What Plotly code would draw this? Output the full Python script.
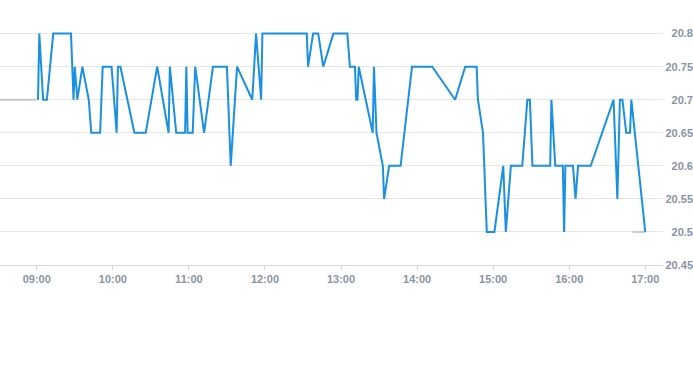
import plotly.graph_objects as go

DAY = "2024-01-02 "

price_times = [
    "09:01", "09:02", "09:05", "09:08", "09:13", "09:27", "09:29", "09:30", "09:32", "09:36",
    "09:41", "09:43", "09:50", "09:52", "09:59", "10:03", "10:04", "10:06", "10:17", "10:26",
    "10:35", "10:44", "10:45", "10:50", "10:57", "10:58", "10:59", "11:03", "11:05", "11:12",
    "11:19", "11:30", "11:33", "11:38", "11:50", "11:53", "11:57", "11:58", "12:33", "12:34",
    "12:38", "12:42", "12:46", "12:54", "13:05", "13:07", "13:11", "13:12", "13:13", "13:14",
    "13:25", "13:26", "13:28", "13:33", "13:34", "13:38", "13:47", "13:56", "14:12", "14:30",
    "14:38", "14:47", "14:48", "14:52", "14:55", "15:01", "15:08", "15:10", "15:14", "15:23",
    "15:27", "15:29", "15:31", "15:45", "15:46", "15:49", "15:55", "15:56", "15:57", "16:03",
    "16:05", "16:07", "16:17", "16:35", "16:38", "16:40", "16:42", "16:45", "16:48", "16:49",
    "17:00",
]
price_values = [
    20.70, 20.80, 20.70, 20.70, 20.80, 20.80, 20.70, 20.75, 20.70, 20.75,
    20.70, 20.65, 20.65, 20.75, 20.75, 20.65, 20.75, 20.75, 20.65, 20.65,
    20.75, 20.65, 20.75, 20.65, 20.65, 20.75, 20.65, 20.65, 20.75, 20.65,
    20.75, 20.75, 20.60, 20.75, 20.70, 20.80, 20.70, 20.80, 20.80, 20.75,
    20.80, 20.80, 20.75, 20.80, 20.80, 20.75, 20.75, 20.70, 20.70, 20.75,
    20.65, 20.75, 20.65, 20.60, 20.55, 20.60, 20.60, 20.75, 20.75, 20.70,
    20.75, 20.75, 20.70, 20.65, 20.50, 20.50, 20.60, 20.50, 20.60, 20.60,
    20.70, 20.70, 20.60, 20.60, 20.70, 20.60, 20.60, 20.50, 20.60, 20.60,
    20.55, 20.60, 20.60, 20.70, 20.55, 20.70, 20.70, 20.65, 20.65, 20.70,
    20.50,
]

pre_times = ["08:30", "09:00"]
pre_values = [20.70, 20.70]

post_times = ["16:50", "17:00"]
post_values = [20.50, 20.50]

x_tick_times = ["09:00", "10:00", "11:00", "12:00", "13:00", "14:00", "15:00", "16:00", "17:00"]
x_tick_labels = x_tick_times
y_ticks = [20.45, 20.5, 20.55, 20.6, 20.65, 20.7, 20.75, 20.8]
y_tick_labels = ["20.45", "20.5", "20.55", "20.6", "20.65", "20.7", "20.75", "20.8"]

x_range = ["08:31", "17:14"]
y_range = [20.45, 20.81]


def ts(lst):
    return [DAY + t for t in lst]


fig = go.Figure()
fig.add_trace(go.Scatter(x=ts(pre_times), y=pre_values, mode="lines",
                         line=dict(color="#c3c7ce", width=2), hoverinfo="skip"))
fig.add_trace(go.Scatter(x=ts(post_times), y=post_values, mode="lines",
                         line=dict(color="#c3c7ce", width=2), hoverinfo="skip"))
fig.add_trace(go.Scatter(x=ts(price_times), y=price_values, mode="lines",
                         line=dict(color="#1a90e2", width=2)))

tick_font = dict(family="Liberation Sans, Arial, sans-serif", size=11, color="#8a93a3",
                 weight="bold")

fig.update_layout(
    width=693, height=365,
    margin=dict(l=0, r=0, t=27, b=100, autoexpand=False),
    paper_bgcolor="white", plot_bgcolor="white",
    showlegend=False,
    xaxis=dict(
        domain=[0, 663 / 693], automargin=False,
        range=ts(x_range), type="date",
        tickmode="array", tickvals=ts(x_tick_times), ticktext=x_tick_labels,
        showgrid=False, showline=True, linecolor="#cfd6e3", linewidth=1,
        ticks="outside", ticklen=4, tickcolor="#cfd6e3",
        tickfont=tick_font,
        zeroline=False,
    ),
    yaxis=dict(
        range=y_range, anchor="free", position=1, side="left",
        ticklabelposition="outside", automargin=False,
        tickmode="array", tickvals=y_ticks, ticktext=y_tick_labels,
        showgrid=True, gridcolor="#e6e6e6", gridwidth=1,
        showline=False, ticks="", ticklabelstandoff=0,
        tickfont=tick_font,
        zeroline=False,
    ),
)

fig.write_html(
    "out.html",
    config={"displayModeBar": False},
    post_script="document.body.style.margin='0';document.body.style.padding='0';",
)
